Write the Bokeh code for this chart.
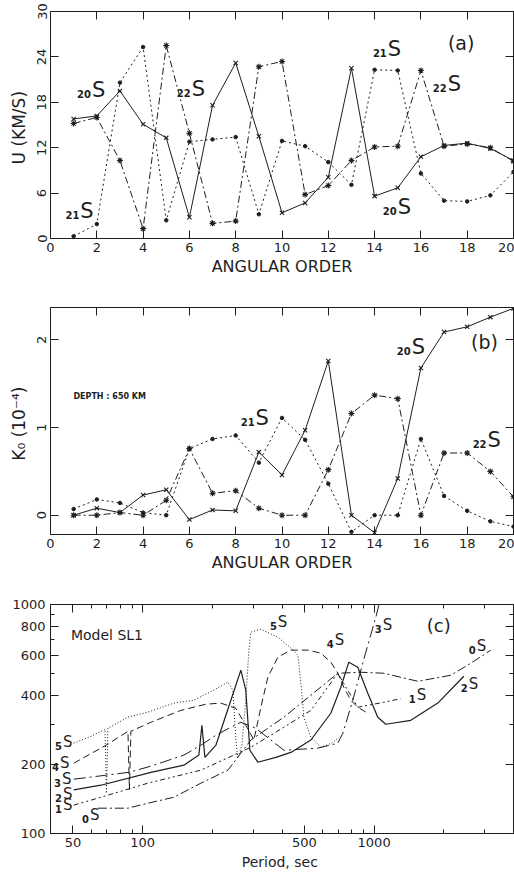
from bokeh.plotting import figure
from bokeh.layouts import column
from bokeh.models import LinearAxis, LogAxis, FixedTicker, Range1d, Label
from bokeh.core.properties import value
from bokeh.embed import file_html
from bokeh.resources import INLINE

# ---------------- data: panel (a) group velocity ----------------
angular_order = list(range(1, 21))
u_20S = [15.8, 16.2, 19.5, 15.1, 13.3, 2.8, 17.6, 23.2, 13.5, 3.4,
         4.7, 8.1, 22.5, 5.6, 6.7, 10.8, 12.3, 12.6, 11.9, 10.3]
u_21S = [0.3, 1.9, 20.6, 25.3, 2.4, 12.8, 13.1, 13.4, 3.2, 12.9,
         12.2, 10.1, 7.1, 22.3, 22.2, 8.6, 5.0, 4.9, 5.7, 8.8]
u_22S = [15.2, 16.0, 10.3, 1.3, 25.5, 13.9, 2.0, 2.3, 22.7, 23.4,
         5.8, 7.0, 10.3, 12.1, 12.2, 22.2, 12.2, 12.5, 12.0, 10.2]

# ---------------- data: panel (b) kernel at 650 km ----------------
k_20S = [0.0, 0.08, 0.03, 0.23, 0.29, -0.05, 0.06, 0.05, 0.72, 0.46,
         0.97, 1.76, 0.0, -0.2, 0.42, 1.68, 2.09, 2.15, 2.26, 2.36]
k_21S = [0.07, 0.18, 0.14, 0.03, 0.0, 0.76, 0.87, 0.91, 0.6, 1.11,
         0.86, 0.36, -0.19, 0.0, 0.0, 0.87, 0.22, 0.05, -0.07, -0.13]
k_22S = [0.0, 0.0, 0.03, 0.0, 0.17, 0.76, 0.25, 0.28, 0.08, 0.0,
         0.0, 0.52, 1.16, 1.37, 1.33, 0.0, 0.71, 0.71, 0.5, 0.21]

# ---------------- data: panel (c) Q versus period ----------------
period_0S = [64.1, 86.4, 105.4, 136.5, 178.5, 233.5, 293.5, 407.5, 697, 876, 1101, 1544, 2144, 2616, 3192]
q_0S = [129, 129, 135.6, 144, 165.9, 189, 256, 322, 501, 506, 501, 462, 491, 554, 632]

period_1S = [50.4, 66.1, 105.4, 178.5, 293.5, 407.5, 533, 697, 850, 1101, 1303]
q_1S = [133, 144, 165.9, 189, 238, 291, 345, 501, 356, 374, 388]

period_2S = [50.4, 66.1, 108.6, 150.8, 175, 180.3, 185.8, 207.3, 240.6, 265.7, 279, 290.6, 314.6,
             376.3, 436.9, 533, 650, 718, 777.5, 850, 939, 1037, 1123, 1440, 1884, 2440]
q_2S = [155, 162.5, 185, 198.8, 220, 297, 215, 243, 382, 517, 423, 231, 204.8,
        215, 226, 256, 335, 435, 560, 532, 410, 322, 300, 312, 371, 486]

period_3S = [50.4, 69.4, 87.3, 108.6, 150.8, 178.5, 207.3, 235.8, 265.7, 308.5, 407.5, 571, 697,
             732.6, 809, 902.6, 1017, 1048]
q_3S = [172.6, 179.7, 185, 196.8, 220, 243, 268.7, 288, 306, 288, 231, 235.8, 248,
        274, 382, 577, 880, 993]

period_4S = [50.4, 70.8, 86.4, 87.7, 89, 108.6, 146.3, 187.7, 217.8, 252.8, 279, 302.4, 324.3, 347.5,
             383.9, 436.9, 517.4, 588.8, 650, 697, 740, 793, 850, 921]
q_4S = [202.8, 245.5, 279.6, 155, 279.6, 306, 345, 367, 371, 352, 297, 256, 356, 481,
        589, 632, 632, 613, 560, 501, 435, 382, 356, 339]

period_5S = [50.4, 60, 68.8, 69.8, 70.8, 86.4, 105.4, 136.5, 166.5, 203.2, 233.5, 245.4, 252.8, 257.9,
             268.4, 279, 287.7, 293.5, 324.3, 383.9, 436.9, 468.4, 482.7, 497.4, 533, 588.8, 656.7, 704]
q_5S = [248, 266, 285, 150, 288, 322, 339, 371, 382, 423, 458, 423, 256, 213,
        243, 382, 632, 757, 780, 720, 645, 601, 453, 322, 263, 238, 248, 263]

# tick values / labels
order_ticks = list(range(0, 21, 2))
u_ticks = [0, 6, 12, 18, 24, 30]
k_ticks = [0, 1, 2]
period_ticks = [50, 100, 500, 1000]
period_minor = [60, 70, 80, 90, 200, 300, 400, 600, 700, 800, 900, 2000, 3000]
q_ticks = [100, 200, 400, 600, 800, 1000]
q_minor = [300, 500, 700, 900]

FONT = "DejaVu Sans"
INK = "#1e1e1e"


def make_fig(height, top, bottom, xr, yr, log=False):
    kw = dict(width=514, height=height, x_range=xr, y_range=yr,
              output_backend="svg", toolbar_location=None,
              min_border_left=50, min_border_right=1,
              min_border_top=top, min_border_bottom=bottom)
    if log:
        kw.update(x_axis_type="log", y_axis_type="log")
    p = figure(**kw)
    p.grid.visible = False
    p.outline_line_color = INK
    p.outline_line_width = 1
    p.border_fill_color = "white"
    p.background_fill_color = "white"
    return p


def style_axis(ax, ticks, minor=None, label_size="13px", vertical=False):
    ax.ticker = FixedTicker(ticks=ticks, minor_ticks=minor or [])
    ax.major_tick_in = 8
    ax.major_tick_out = 0
    ax.minor_tick_in = 4
    ax.minor_tick_out = 0
    ax.axis_line_color = INK
    ax.major_tick_line_color = INK
    ax.minor_tick_line_color = INK
    ax.major_label_text_font = FONT
    ax.major_label_text_font_size = label_size
    ax.major_label_text_color = INK
    ax.major_label_standoff = 4
    ax.axis_label_text_font = FONT
    ax.axis_label_text_font_style = "normal"
    ax.axis_label_text_color = INK
    if vertical:
        ax.major_label_orientation = "vertical"


def add_frame_axes(p, xticks, yticks, xminor=None, yminor=None, log=False):
    # tick marks only (no labels) on the top and right sides of the frame
    Ax = LogAxis if log else LinearAxis
    top = Ax()
    right = Ax()
    style_axis(top, xticks, xminor)
    style_axis(right, yticks, yminor)
    for ax in (top, right):
        ax.major_label_text_color = None
        ax.major_label_text_font_size = "1px"
        ax.major_label_standoff = 0
    p.add_layout(top, "above")
    p.add_layout(right, "right")


def mode_label(p, x, y, n, s_size, sub_size, sub_dy):
    p.text(x=[x], y=[y], text=["S"], text_font=value(FONT), text_font_size=s_size,
           text_align="left", text_baseline="middle", text_color=INK)
    p.text(x=[x], y=[y], text=[n], text_font=value(FONT), text_font_size=sub_size,
           text_align="right", text_baseline="middle", text_color=INK,
           x_offset=-1, y_offset=sub_dy, text_font_style="bold")


def series(p, xs, ys, dash, marker, msize):
    p.line(xs, ys, line_color=INK, line_width=1, line_dash=dash)
    if marker == "circle":
        p.scatter(xs, ys, marker="circle", size=msize, line_color=INK, fill_color=INK)
    else:
        p.scatter(xs, ys, marker=marker, size=msize, line_color=INK, line_width=1.1)


# ======================= panel (a) =======================
pa = make_fig(290, 11, 52, Range1d(0, 20), Range1d(0, 30))
style_axis(pa.xaxis[0], order_ticks)
style_axis(pa.yaxis[0], u_ticks, vertical=True)
pa.xaxis[0].axis_label = "ANGULAR ORDER"
pa.xaxis[0].axis_label_text_font_size = "16px"
pa.xaxis[0].axis_label_standoff = 2
pa.yaxis[0].axis_label = "U  (KM/S)"
pa.yaxis[0].axis_label_text_font_size = "17px"
pa.yaxis[0].axis_label_standoff = 6
add_frame_axes(pa, order_ticks, u_ticks)

series(pa, angular_order, u_20S, "solid", "x", 6)
series(pa, angular_order, u_21S, "2 3", "circle", 3.5)
series(pa, angular_order, u_22S, "7 3 2 3", "asterisk", 6)

mode_label(pa, 1.79, 19.6, "20", "21px", "10px", 4)
mode_label(pa, 6.1, 19.7, "22", "21px", "10px", 4)
mode_label(pa, 1.29, 3.6, "21", "21px", "10px", 4)
mode_label(pa, 14.57, 25.0, "21", "21px", "10px", 4)
mode_label(pa, 17.16, 20.4, "22", "21px", "10px", 4)
mode_label(pa, 15.0, 4.1, "20", "21px", "10px", 4)
pa.text(x=[17.74], y=[25.8], text=["(a)"], text_font=value(FONT), text_font_size="19px",
        text_align="center", text_baseline="middle", text_color=INK)

# ======================= panel (b) =======================
pb = make_fig(290, 17, 46, Range1d(0, 20), Range1d(-0.22, 2.37))
style_axis(pb.xaxis[0], order_ticks)
style_axis(pb.yaxis[0], k_ticks, vertical=True)
pb.xaxis[0].axis_label = "ANGULAR ORDER"
pb.xaxis[0].axis_label_text_font_size = "16px"
pb.xaxis[0].axis_label_standoff = 2
pb.yaxis[0].axis_label = "K\u2080  (10\u207b\u2074)"
pb.yaxis[0].axis_label_text_font_size = "17px"
pb.yaxis[0].axis_label_standoff = 6
add_frame_axes(pb, order_ticks, k_ticks)

series(pb, angular_order, k_20S, "solid", "x", 6)
series(pb, angular_order, k_21S, "2 3", "circle", 3.5)
series(pb, angular_order, k_22S, "7 3 2 3", "asterisk", 6)

mode_label(pb, 15.6, 1.92, "20", "21px", "10px", 4)
mode_label(pb, 8.86, 1.11, "21", "21px", "10px", 4)
mode_label(pb, 18.88, 0.855, "22", "21px", "10px", 4)
pb.text(x=[18.75], y=[1.976], text=["(b)"], text_font=value(FONT), text_font_size="19px",
        text_align="center", text_baseline="middle", text_color=INK)
pb.text(x=[0.99], y=[1.35], text=["DEPTH : 650 KM"], text_font=value(FONT), text_font_size="8px",
        text_align="left", text_baseline="middle", text_color=INK, text_font_style="bold")

# ======================= panel (c) =======================
pc = make_fig(294, 24, 41, Range1d(40, 4000), Range1d(100, 1000), log=True)
style_axis(pc.xaxis[0], period_ticks, period_minor, label_size="13px")
style_axis(pc.yaxis[0], q_ticks, q_minor, label_size="13px")
pc.xaxis[0].axis_label = "Period,  sec"
pc.xaxis[0].axis_label_text_font_size = "14px"
pc.xaxis[0].axis_label_standoff = 4
pc.yaxis[0].major_label_standoff = 5
add_frame_axes(pc, period_ticks, q_ticks, period_minor, q_minor, log=True)

pc.line(period_0S, q_0S, line_color=INK, line_width=1, line_dash="9 3 2 3")
pc.line(period_1S, q_1S, line_color=INK, line_width=1, line_dash="5 3 2 3 2 3")
pc.line(period_2S, q_2S, line_color=INK, line_width=1.2, line_dash="solid")
pc.line(period_3S, q_3S, line_color=INK, line_width=1, line_dash="12 4 2 4")
pc.line(period_4S, q_4S, line_color=INK, line_width=1, line_dash="7 4")
pc.line(period_5S, q_5S, line_color=INK, line_width=1, line_dash="1 2")

for (x, y, n) in [(45.3, 250.4, "5"), (44.0, 202.8, "4"), (44.8, 172.6, "3"), (45.3, 148.4, "2"),
                  (45.3, 132.9, "1"), (59.2, 120.2, "0"), (383.9, 837, "5"), (676.5, 698, "4"),
                  (1090, 812, "3"), (2776, 657, "0"), (1529, 402, "1"), (2560, 449, "2")]:
    mode_label(pc, x, y, n, "15px", "10px", 4)

pc.text(x=[49], y=[735], text=["Model  SL1"], text_font=value(FONT), text_font_size="14px",
        text_align="left", text_baseline="middle", text_color=INK)
pc.text(x=[1903], y=[812], text=["(c)"], text_font=value(FONT), text_font_size="18px",
        text_align="center", text_baseline="middle", text_color=INK)
pc.add_layout(Label(x=32, y=283, text="Q", text_font=FONT, text_font_size="21px",
                    text_align="center", text_baseline="middle", text_color=INK))

layout = column(pa, pb, pc, spacing=0)
open("out.html", "w").write(file_html(layout, INLINE))
